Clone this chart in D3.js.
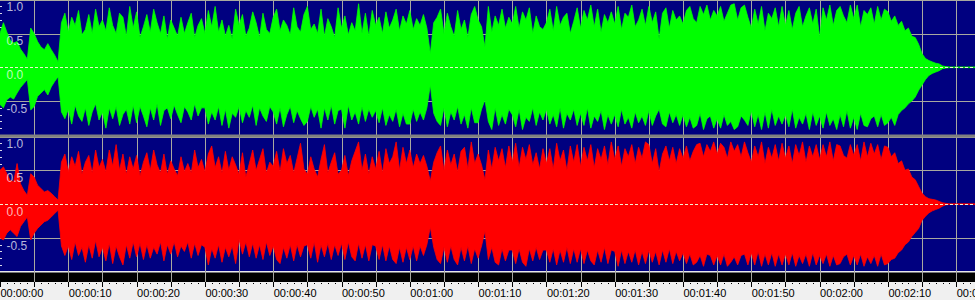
<!DOCTYPE html>
<html>
<head>
<meta charset="utf-8">
<script src="https://cdn.jsdelivr.net/npm/d3@7"></script>
<style>
  body { margin: 0; background: #f0f0f0; }
  svg { display: block; }
</style>
</head>
<body>
<div id="chart"></div>
<script>
// envelope samples, one every half second (amplitude -1..1)
const sampleStep = 0.5;

const leftMax = [
  0.5,0.66,0.52,0.4,0.36,0.38,0.27,0.2,0.12,0.58,
  0.5,0.38,0.3,0.26,0.35,0.26,0.18,0.08,0.66,0.8,
  0.52,0.74,0.62,0.84,0.48,0.56,0.78,0.5,0.86,0.6,
  0.7,0.54,0.88,0.62,0.5,0.8,0.74,0.46,0.9,0.58,
  0.82,0.44,0.6,0.78,0.52,0.86,0.66,0.5,0.76,0.42,
  0.7,0.58,0.46,0.74,0.5,0.66,0.8,0.44,0.62,0.72,
  0.5,0.84,0.6,0.9,0.52,0.7,0.46,0.62,0.42,0.86,
  0.62,0.78,0.46,0.58,0.82,0.66,0.44,0.8,0.56,0.5,
  0.74,0.86,0.54,0.7,0.62,0.48,0.88,0.6,0.52,0.78,
  0.9,0.56,0.64,0.5,0.86,0.46,0.72,0.6,0.44,0.88,
  0.58,0.76,0.48,0.66,0.54,0.94,0.5,0.8,0.46,0.84,
  0.62,0.74,0.5,0.82,0.58,0.7,0.86,0.54,0.76,0.64,
  0.84,0.56,0.72,0.62,0.78,0.58,0.2,0.66,0.74,0.86,
  0.5,0.8,0.6,0.46,0.84,0.56,0.7,0.44,0.78,0.9,
  0.7,0.6,0.3,0.9,0.52,0.76,0.62,0.86,0.58,0.74,
  0.64,0.9,0.58,0.82,0.7,0.88,0.5,0.76,0.6,0.56,
  0.66,0.86,0.54,0.9,0.62,0.74,0.8,0.5,0.68,0.88,
  0.58,0.84,0.7,0.92,0.6,0.86,0.52,0.78,0.66,0.82,
  0.64,0.9,0.56,0.8,0.74,0.92,0.6,0.7,0.86,0.62,
  0.9,0.66,0.82,0.42,0.8,0.88,0.58,0.84,0.7,0.76,
  0.64,0.84,0.9,0.72,0.66,0.9,0.78,0.92,0.7,0.84,
  0.76,0.9,0.68,0.8,0.92,0.94,0.7,0.88,0.92,0.74,
  0.58,0.86,0.64,0.9,0.54,0.8,0.72,0.88,0.6,0.9,
  0.62,0.84,0.56,0.8,0.9,0.6,0.76,0.88,0.64,0.86,
  0.44,0.88,0.7,0.92,0.62,0.84,0.9,0.76,0.66,0.92,
  0.72,0.92,0.6,0.84,0.78,0.88,0.64,0.9,0.7,0.86,
  0.82,0.68,0.76,0.62,0.68,0.54,0.58,0.46,0.44,0.34,
  0.2,0.13,0.1,0.08,0.06,0.05,0.02,0.01,0.005,0.005,
  0.005,0.005,0.005,0.005,0.005,0.005,0.005
];
const leftMin = [
  -0.55,-0.6,-0.48,-0.44,-0.47,-0.38,-0.3,-0.24,-0.18,-0.63,
  -0.58,-0.43,-0.38,-0.33,-0.41,-0.29,-0.21,-0.14,-0.66,-0.76,
  -0.62,-0.84,-0.56,-0.72,-0.8,-0.6,-0.86,-0.66,-0.54,-0.78,
  -0.66,-0.9,-0.6,-0.76,-0.58,-0.86,-0.7,-0.62,-0.84,-0.56,
  -0.82,-0.58,-0.72,-0.88,-0.6,-0.78,-0.54,-0.86,-0.64,-0.6,
  -0.76,-0.56,-0.7,-0.82,-0.58,-0.66,-0.78,-0.54,-0.72,-0.6,
  -0.6,-0.84,-0.66,-0.78,-0.58,-0.86,-0.62,-0.9,-0.68,-0.74,
  -0.58,-0.82,-0.64,-0.74,-0.56,-0.86,-0.6,-0.72,-0.8,-0.58,
  -0.66,-0.84,-0.6,-0.88,-0.7,-0.58,-0.82,-0.64,-0.76,-0.86,
  -0.8,-0.58,-0.74,-0.62,-0.9,-0.6,-0.78,-0.56,-0.84,-0.64,
  -0.62,-0.9,-0.56,-0.78,-0.66,-0.84,-0.58,-0.8,-0.62,-0.74,
  -0.64,-0.82,-0.6,-0.86,-0.7,-0.8,-0.62,-0.88,-0.68,-0.84,
  -0.84,-0.62,-0.8,-0.66,-0.78,-0.6,-0.26,-0.68,-0.8,-0.86,
  -0.6,-0.88,-0.66,-0.78,-0.58,-0.84,-0.7,-0.9,-0.6,-0.82,
  -0.82,-0.62,-0.48,-0.8,-0.92,-0.6,-0.86,-0.7,-0.84,-0.62,
  -0.7,-0.88,-0.62,-0.92,-0.74,-0.8,-0.6,-0.86,-0.66,-0.78,
  -0.62,-0.84,-0.7,-0.88,-0.6,-0.9,-0.68,-0.78,-0.62,-0.86,
  -0.68,-0.86,-0.6,-0.9,-0.72,-0.8,-0.64,-0.92,-0.7,-0.84,
  -0.7,-0.88,-0.62,-0.84,-0.74,-0.9,-0.66,-0.82,-0.72,-0.86,
  -0.64,-0.86,-0.72,-0.62,-0.84,-0.88,-0.66,-0.82,-0.7,-0.86,
  -0.7,-0.88,-0.74,-0.9,-0.86,-0.68,-0.92,-0.76,-0.72,-0.9,
  -0.76,-0.9,-0.7,-0.86,-0.8,-0.92,-0.88,-0.72,-0.78,-0.86,
  -0.64,-0.88,-0.7,-0.92,-0.66,-0.9,-0.62,-0.86,-0.72,-0.84,
  -0.7,-0.88,-0.62,-0.9,-0.74,-0.84,-0.68,-0.92,-0.66,-0.86,
  -0.72,-0.9,-0.66,-0.86,-0.76,-0.92,-0.7,-0.88,-0.64,-0.9,
  -0.74,-0.92,-0.68,-0.86,-0.88,-0.76,-0.72,-0.88,-0.7,-0.86,
  -0.82,-0.74,-0.86,-0.7,-0.64,-0.6,-0.54,-0.5,-0.44,-0.34,
  -0.26,-0.18,-0.12,-0.09,-0.07,-0.05,-0.02,-0.01,-0.005,-0.005,
  -0.005,-0.005,-0.005,-0.005,-0.005,-0.005,-0.005
];
const rightMax = [
  0.5,0.55,0.45,0.35,0.33,0.6,0.3,0.2,0.13,0.45,
  0.4,0.28,0.23,0.18,0.2,0.16,0.11,0.06,0.62,0.74,
  0.48,0.7,0.56,0.78,0.44,0.62,0.72,0.46,0.8,0.54,
  0.66,0.48,0.8,0.56,0.88,0.5,0.74,0.44,0.7,0.52,
  0.72,0.42,0.62,0.76,0.5,0.8,0.58,0.46,0.74,0.44,
  0.64,0.52,0.42,0.7,0.48,0.6,0.46,0.8,0.54,0.66,
  0.48,0.74,0.86,0.54,0.7,0.46,0.78,0.5,0.7,0.58,
  0.44,0.76,0.4,0.6,0.8,0.5,0.66,0.82,0.46,0.62,
  0.56,0.78,0.48,0.82,0.6,0.72,0.46,0.68,0.9,0.52,
  0.44,0.7,0.52,0.4,0.66,0.88,0.46,0.62,0.76,0.44,
  0.5,0.72,0.42,0.64,0.78,0.92,0.5,0.74,0.44,0.7,
  0.52,0.78,0.46,0.82,0.6,0.7,0.92,0.5,0.84,0.6,
  0.8,0.54,0.74,0.6,0.72,0.56,0.34,0.62,0.76,0.86,
  0.5,0.8,0.58,0.74,0.48,0.78,0.84,0.52,0.92,0.6,
  0.74,0.58,0.36,0.8,0.52,0.84,0.64,0.82,0.54,0.86,
  0.62,0.9,0.54,0.84,0.66,0.88,0.58,0.76,0.52,0.82,
  0.6,0.82,0.52,0.9,0.64,0.8,0.5,0.86,0.62,0.88,
  0.56,0.84,0.64,0.88,0.54,0.82,0.66,0.86,0.58,0.92,
  0.66,0.86,0.56,0.82,0.7,0.88,0.6,0.84,0.68,0.92,
  0.88,0.6,0.82,0.48,0.74,0.86,0.64,0.84,0.6,0.82,
  0.68,0.86,0.64,0.78,0.88,0.9,0.7,0.88,0.78,0.92,
  0.74,0.9,0.84,0.68,0.92,0.78,0.88,0.7,0.92,0.76,
  0.62,0.86,0.7,0.92,0.6,0.84,0.68,0.88,0.64,0.9,
  0.68,0.86,0.6,0.88,0.72,0.92,0.62,0.86,0.7,0.88,
  0.66,0.88,0.7,0.92,0.64,0.88,0.86,0.72,0.68,0.88,
  0.72,0.88,0.64,0.92,0.7,0.9,0.74,0.88,0.66,0.86,
  0.84,0.7,0.76,0.6,0.64,0.5,0.52,0.4,0.36,0.26,
  0.16,0.11,0.08,0.07,0.06,0.04,0.02,0.01,0.005,0.005,
  0.005,0.005,0.005,0.005,0.005,0.005,0.005
];
const rightMin = [
  -0.5,-0.53,-0.43,-0.38,-0.43,-0.48,-0.33,-0.26,-0.19,-0.53,
  -0.43,-0.36,-0.31,-0.26,-0.24,-0.19,-0.14,-0.09,-0.62,-0.76,
  -0.62,-0.82,-0.56,-0.76,-0.64,-0.86,-0.6,-0.8,-0.54,-0.78,
  -0.64,-0.84,-0.58,-0.88,-0.62,-0.78,-0.9,-0.6,-0.8,-0.56,
  -0.78,-0.58,-0.82,-0.6,-0.8,-0.64,-0.74,-0.56,-0.84,-0.6,
  -0.74,-0.56,-0.78,-0.62,-0.7,-0.56,-0.8,-0.58,-0.76,-0.6,
  -0.64,-0.9,-0.66,-0.8,-0.6,-0.86,-0.64,-0.78,-0.62,-0.88,
  -0.52,-0.74,-0.56,-0.78,-0.58,-0.8,-0.6,-0.82,-0.56,-0.76,
  -0.62,-0.82,-0.88,-0.64,-0.8,-0.6,-0.84,-0.6,-0.78,-0.62,
  -0.6,-0.8,-0.56,-0.86,-0.6,-0.78,-0.58,-0.82,-0.6,-0.76,
  -0.58,-0.82,-0.56,-0.78,-0.84,-0.58,-0.8,-0.6,-0.84,-0.6,
  -0.62,-0.82,-0.6,-0.84,-0.62,-0.82,-0.88,-0.64,-0.86,-0.64,
  -0.82,-0.62,-0.84,-0.62,-0.76,-0.6,-0.34,-0.64,-0.82,-0.88,
  -0.64,-0.86,-0.62,-0.82,-0.9,-0.64,-0.84,-0.62,-0.88,-0.66,
  -0.8,-0.62,-0.4,-0.82,-0.64,-0.86,-0.9,-0.66,-0.84,-0.68,
  -0.68,-0.88,-0.66,-0.86,-0.92,-0.66,-0.84,-0.64,-0.82,-0.68,
  -0.68,-0.86,-0.66,-0.9,-0.68,-0.86,-0.64,-0.88,-0.66,-0.86,
  -0.66,-0.88,-0.68,-0.84,-0.9,-0.68,-0.86,-0.64,-0.88,-0.68,
  -0.7,-0.92,-0.68,-0.88,-0.7,-0.86,-0.68,-0.9,-0.7,-0.88,
  -0.68,-0.86,-0.7,-0.9,-0.68,-0.86,-0.66,-0.88,-0.7,-0.84,
  -0.72,-0.88,-0.74,-0.9,-0.86,-0.76,-0.92,-0.74,-0.76,-0.9,
  -0.76,-0.9,-0.74,-0.92,-0.86,-0.78,-0.9,-0.76,-0.74,-0.9,
  -0.72,-0.9,-0.7,-0.92,-0.74,-0.9,-0.72,-0.92,-0.74,-0.9,
  -0.74,-0.9,-0.72,-0.92,-0.76,-0.88,-0.74,-0.92,-0.72,-0.9,
  -0.76,-0.88,-0.74,-0.92,-0.76,-0.9,-0.88,-0.78,-0.74,-0.9,
  -0.76,-0.9,-0.74,-0.92,-0.78,-0.88,-0.76,-0.92,-0.74,-0.9,
  -0.88,-0.82,-0.8,-0.72,-0.68,-0.6,-0.56,-0.48,-0.42,-0.36,
  -0.24,-0.18,-0.13,-0.1,-0.08,-0.06,-0.03,-0.01,-0.005,-0.005,
  -0.005,-0.005,-0.005,-0.005,-0.005,-0.005,-0.005
];

const ampLabels = [1.0, 0.5, 0.0, -0.5];
const timeLabels = ["00:00:00","00:00:10","00:00:20","00:00:30","00:00:40","00:00:50",
  "00:01:00","00:01:10","00:01:20","00:01:30","00:01:40","00:01:50",
  "00:02:00","00:02:10","00:02:20"];

const width = 975;
const height = 300;
const totalSeconds = 142.75;

const x = d3.scaleLinear().domain([0, totalSeconds]).range([0, width]);

// two channels, each its own amplitude scale
const channels = [
  {max: leftMax, min: leftMin, color: "#00ff00", y: d3.scaleLinear().domain([-1, 1]).range([134.9, -0.3])},
  {max: rightMax, min: rightMin, color: "#ff0000", y: d3.scaleLinear().domain([-1, 1]).range([271.7, 136.5])}
];

const svg = d3.select("#chart").append("svg")
  .attr("width", width)
  .attr("height", height);

svg.append("rect").attr("width", width).attr("height", height).attr("fill", "#f0f0f0");
svg.append("rect").attr("width", width).attr("height", 271).attr("fill", "#000080");

// black strip + white line under the wave panels
svg.append("rect").attr("x", 0).attr("y", 271).attr("width", width).attr("height", 1.5).attr("fill", "#e8e8e8");
svg.append("rect").attr("x", 0).attr("y", 272.5).attr("width", width).attr("height", 9.5).attr("fill", "#000");

// vertical grid every 5 seconds
svg.append("g")
  .selectAll("line")
  .data(d3.range(5, totalSeconds, 5))
  .join("line")
    .attr("x1", d => Math.round(x(d)) + 0.5)
    .attr("x2", d => Math.round(x(d)) + 0.5)
    .attr("y1", 0)
    .attr("y2", 282)
    .attr("stroke", "#a8a8a0");

channels.forEach(ch => {
  const y = ch.y;
  const g = svg.append("g");

  // horizontal grid
  g.selectAll("line.h")
    .data([1, 0.5, -0.5])
    .join("line")
      .attr("class", "h")
      .attr("x1", 0).attr("x2", width)
      .attr("y1", d => Math.max(0.5, Math.round(y(d)) + 0.5))
      .attr("y2", d => Math.max(0.5, Math.round(y(d)) + 0.5))
      .attr("stroke", "#a8a8a0");

  // small amplitude ruler on the left edge
  g.selectAll("line.r")
    .data(d3.range(-9, 10).map(d => d / 10))
    .join("line")
      .attr("class", "r")
      .attr("x1", 0).attr("x2", 2)
      .attr("y1", d => Math.round(y(d)) + 0.5)
      .attr("y2", d => Math.round(y(d)) + 0.5)
      .attr("stroke", "#d8d8e8");

  const area = d3.area()
    .x((d, i) => x(i * sampleStep))
    .y0((d, i) => y(ch.min[i]))
    .y1((d, i) => y(ch.max[i]));

  g.append("path")
    .datum(ch.max)
    .attr("d", area)
    .attr("fill", ch.color)
    .attr("stroke", ch.color)
    .attr("stroke-width", 0.8);

  // dashed centre line
  g.append("line")
    .attr("x1", 0).attr("x2", width)
    .attr("y1", Math.round(y(0)) + 0.5)
    .attr("y2", Math.round(y(0)) + 0.5)
    .attr("stroke", "#f0f0d0")
    .attr("stroke-dasharray", "3,2");

  g.selectAll("text")
    .data(ampLabels)
    .join("text")
      .attr("x", 6.5)
      .attr("y", d => y(d) + 11.7)
      .attr("fill", "#ffffff")
      .attr("fill-opacity", 0.72)
      .style("font", "12px 'Liberation Sans', Arial, sans-serif")
      .text(d => d.toFixed(1));
});

// grey separator between the channels
svg.append("rect").attr("x", 0).attr("y", 134.5).attr("width", width).attr("height", 3).attr("fill", "#808080");

// time ruler
const ruler = svg.append("g");
ruler.selectAll("rect.minor")
  .data(d3.range(1, totalSeconds, 1).filter(d => d % 5 !== 0))
  .join("rect")
    .attr("class", "minor")
    .attr("x", d => Math.round(x(d)))
    .attr("y", 283)
    .attr("width", 1)
    .attr("height", 1)
    .attr("fill", "#000");

ruler.selectAll("rect.major")
  .data(d3.range(0, totalSeconds, 5))
  .join("rect")
    .attr("class", "major")
    .attr("x", d => Math.round(x(d)))
    .attr("y", 282)
    .attr("width", 1)
    .attr("height", 5)
    .attr("fill", "#000");

ruler.selectAll("text")
  .data(timeLabels)
  .join("text")
    .attr("x", (d, i) => x(i * 10) + 0.5)
    .attr("y", 296.5)
    .attr("fill", "#000")
    .style("font", "11px 'Liberation Sans', Arial, sans-serif")
    .text(d => d);
</script>
</body>
</html>
